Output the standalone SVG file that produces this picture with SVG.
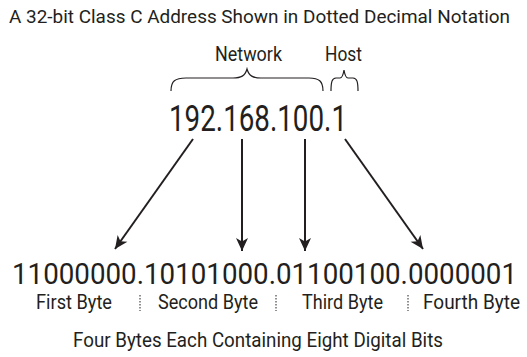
<svg xmlns="http://www.w3.org/2000/svg" width="527" height="357" viewBox="0 0 527 357">
  <defs>
    <style>
      text { font-family: Roboto, "Liberation Sans", sans-serif; fill: #231f20; }
      .title { font-size: 18.5px; }
      .lbl { font-size: 19.5px; }
      .ip { font-size: 36px; }
      .bin { font-size: 27px; }
      .brace { fill: none; stroke: #231f20; stroke-width: 1.2; }
      .arrow { stroke: #231f20; stroke-width: 2; fill: none; marker-end: url(#head); }
      .sep { stroke: #231f20; stroke-width: 1; stroke-dasharray: 1.5 1.5; }
    </style>
    <marker id="head" markerUnits="userSpaceOnUse" markerWidth="16" markerHeight="14" viewBox="-14 -7 16 14" refX="0" refY="0" orient="auto">
      <path d="M0,0 L-13,-6 L-9.5,0 L-13,6 Z" fill="#231f20"/>
    </marker>
  </defs>

  <rect width="527" height="357" fill="#ffffff"/>

  <g id="title">
    <text class="title" x="9" y="23" textLength="501" lengthAdjust="spacingAndGlyphs">A 32-bit Class C Address Shown in Dotted Decimal Notation</text>
  </g>

  <g id="network">
    <text class="lbl" x="215" y="61" textLength="67" lengthAdjust="spacingAndGlyphs">Network</text>
    <path class="brace" d="M171,91 C171,81 175,78 186,78 L233,78 C241,78 245,76 247,69 C249,76 253,78 261,78 L309,78 C319,78 323,81 323,91"/>
  </g>

  <g id="host">
    <text class="lbl" x="325" y="61" textLength="37" lengthAdjust="spacingAndGlyphs">Host</text>
    <path class="brace" d="M331,91 C331,82 332,78 336,78 L340,78 C342,78 343,76 344,70 C345,76 346,78 348,78 L353,78 C357,78 358,82 358,91"/>
  </g>

  <g id="address">
    <text class="ip" x="169" y="131" textLength="178" lengthAdjust="spacingAndGlyphs">192.168.100.1</text>
  </g>

  <g id="connectors">
    <line class="arrow" x1="193" y1="139" x2="115" y2="249"/>
    <line class="arrow" x1="242" y1="139" x2="242" y2="251"/>
    <line class="arrow" x1="305" y1="139" x2="305" y2="251"/>
    <line class="arrow" x1="345" y1="139" x2="423" y2="249"/>
  </g>

  <g id="binary">
    <!-- taller-than-wide digits: vertical stretch of a 27px run -->
    <text class="bin" x="12" y="0" transform="translate(0,284) scale(1,1.11)" textLength="505" lengthAdjust="spacingAndGlyphs">11000000.10101000.01100100.0000001</text>
  </g>

  <g id="bytes">
    <text class="lbl" x="36" y="309" textLength="76" lengthAdjust="spacingAndGlyphs">First Byte</text>
    <text class="lbl" x="158" y="309" textLength="100" lengthAdjust="spacingAndGlyphs">Second Byte</text>
    <text class="lbl" x="302" y="309" textLength="81" lengthAdjust="spacingAndGlyphs">Third Byte</text>
    <text class="lbl" x="423" y="309" textLength="97" lengthAdjust="spacingAndGlyphs">Fourth Byte</text>
    <line class="sep" x1="140" y1="295" x2="140" y2="311"/>
    <line class="sep" x1="276" y1="295" x2="276" y2="311"/>
    <line class="sep" x1="408" y1="295" x2="408" y2="311"/>
  </g>

  <g id="caption">
    <text class="lbl" x="73" y="347" textLength="370" lengthAdjust="spacingAndGlyphs">Four Bytes Each Containing Eight Digital Bits</text>
  </g>
</svg>
